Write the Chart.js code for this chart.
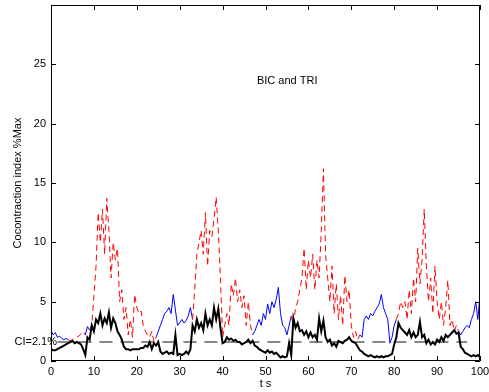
<!DOCTYPE html>
<html>
<head>
<meta charset="utf-8">
<script src="https://cdn.jsdelivr.net/npm/chart.js@4"></script>
<style>
html,body{margin:0;padding:0;background:#fff;}
canvas{display:block;}
</style>
</head>
<body>
<canvas id="c" width="489" height="392"></canvas>
<script>
// sampling interval of the recorded signals (s)
const dt = 0.5;
// cocontraction index, BIC/TRI (one value per 0.5 s, t = 0..100)
const cci = [
  2.6,2.2,2.4,2.0,2.1,1.9,1.8,1.9,1.8,1.7,
  1.8,1.9,2.0,2.1,2.3,2.5,2.2,2.9,2.6,3.0,
  5.5,8.0,12.5,10.0,12.8,9.0,13.7,11.0,7.0,10.0,
  8.5,9.5,5.0,6.0,3.5,4.5,2.2,3.5,2.0,5.6,
  4.5,4.0,4.2,3.0,2.5,2.2,2.0,2.5,1.6,2.0,
  2.5,3.0,3.5,4.0,4.2,4.5,4.0,5.6,4.3,3.0,
  3.2,3.5,3.2,3.4,3.8,4.5,3.5,6.0,9.0,10.0,
  11.0,9.0,12.5,8.0,11.0,10.5,12.0,13.8,11.0,7.0,
  2.0,3.0,4.0,3.0,6.5,5.5,7.0,5.0,6.0,4.5,
  5.5,3.0,5.0,3.0,2.2,2.5,3.0,3.5,3.0,4.0,
  3.5,4.8,4.0,5.0,4.5,5.2,6.2,4.0,3.0,2.8,
  2.2,3.0,3.8,3.0,4.5,5.0,6.0,7.0,9.5,6.0,
  8.5,7.0,9.0,6.0,8.5,7.0,11.0,16.2,9.0,7.0,
  5.0,8.0,4.0,6.5,3.5,5.5,3.0,7.2,5.0,6.0,
  3.0,2.0,2.5,1.8,2.2,2.0,3.5,3.8,3.5,4.0,
  3.8,4.2,4.5,4.8,5.6,4.5,4.0,3.5,1.5,2.0,
  3.0,3.5,4.0,5.0,4.5,5.0,3.5,6.0,4.0,7.0,
  5.0,9.5,6.5,8.5,12.8,8.0,5.0,7.0,4.0,8.0,
  5.0,3.5,5.0,3.0,4.5,6.8,3.0,3.5,2.5,3.0,
  2.5,2.2,2.5,2.8,3.0,2.8,3.5,4.0,5.0,3.5,
  5.6
];
// time ranges where the red (dashed) phase is shown
const redRanges = [[4,8],[9,24.5],[33,47],[56,72],[80.5,95]];
// second (black) index
const black = [
  1.0,0.9,0.9,1.0,1.1,1.2,1.3,1.4,1.5,1.6,
  1.7,1.5,1.6,1.5,1.4,1.0,0.5,2.0,1.8,3.0,
  2.5,3.5,3.2,4.0,3.0,3.6,3.2,4.1,2.8,3.6,
  3.2,2.5,2.2,1.8,1.2,1.0,1.0,0.9,1.0,1.0,
  1.0,1.0,1.1,1.1,1.3,1.2,1.6,1.0,1.5,1.3,
  1.6,0.8,0.6,0.7,0.8,0.6,0.7,0.6,2.2,0.5,
  0.6,0.5,0.6,0.8,0.6,1.0,3.0,2.5,3.5,2.8,
  3.2,2.6,4.0,3.0,3.5,3.0,4.5,3.5,4.4,2.8,
  1.5,1.6,2.0,1.8,1.9,1.7,1.8,1.6,1.6,1.4,
  1.5,1.6,1.8,1.5,1.7,1.3,1.2,1.0,0.9,0.8,
  0.7,0.9,0.7,0.8,0.6,0.7,0.5,0.3,0.4,0.3,
  0.4,1.5,0.5,3.6,2.8,3.2,2.5,2.6,2.2,2.5,
  2.0,2.4,2.0,2.2,1.8,3.6,2.5,3.4,2.0,1.6,
  1.8,1.3,1.5,1.2,1.7,1.6,1.5,1.7,1.8,2.0,
  1.7,1.6,1.5,1.2,0.9,0.8,0.6,0.5,0.4,0.5,
  0.4,0.3,0.4,0.3,0.4,0.3,0.4,0.4,0.5,0.6,
  1.4,2.0,3.2,2.8,2.6,2.4,2.2,2.6,2.0,2.4,
  2.0,2.2,3.3,2.0,2.2,1.5,1.8,1.4,1.6,1.4,
  1.8,1.6,2.0,1.7,2.2,2.0,2.2,2.4,2.6,2.3,
  2.4,1.2,1.0,0.7,0.6,0.5,0.4,0.5,0.4,0.5,
  0.3
];
// CI threshold line
const ciLevel = 1.6;
const ciSpan = [1.5, 97];
const ciLabel = 'CI=2.1%';
const xTicks = [0,10,20,30,40,50,60,70,80,90,100];
const yTicks = [0,5,10,15,20,25];
const annotation = {text:'BIC and TRI', x:48, y:23.6};

const FONT = 'Liberation Sans, Arial, Helvetica, sans-serif';
const isRed = t => redRanges.some(r => t >= r[0] && t < r[1]);
const toPts = arr => arr.map((v,i) => ({x: i*dt, y: v}));

const boxPlugin = {
  id: 'box',
  afterDatasetsDraw(chart) {
    const {ctx, chartArea: a, scales: {x, y}} = chart;
    ctx.save();
    ctx.strokeStyle = '#000';
    ctx.lineWidth = 1;
    ctx.beginPath();
    ctx.rect(Math.round(a.left)+0.5, Math.round(a.top)+0.5, Math.round(a.right-a.left)-1, Math.round(a.bottom-a.top)-1);
    ctx.stroke();
    const tl = 5;
    ctx.beginPath();
    xTicks.forEach(v => {
      const px = Math.round(x.getPixelForValue(v)) + 0.5;
      ctx.moveTo(px, a.bottom); ctx.lineTo(px, a.bottom - tl);
      ctx.moveTo(px, a.top); ctx.lineTo(px, a.top + tl);
    });
    yTicks.concat([30]).forEach(v => {
      const py = Math.round(y.getPixelForValue(v)) + 0.5;
      ctx.moveTo(a.left, py); ctx.lineTo(a.left + tl, py);
      ctx.moveTo(a.right, py); ctx.lineTo(a.right - tl, py);
    });
    ctx.stroke();
    ctx.fillStyle = '#000';
    ctx.font = '11px ' + FONT;
    ctx.textBaseline = 'middle';
    ctx.textAlign = 'left';
    ctx.fillText(annotation.text, x.getPixelForValue(annotation.x), y.getPixelForValue(annotation.y));
    ctx.textAlign = 'right';
    ctx.fillText(ciLabel, a.left + 6, y.getPixelForValue(ciLevel));
    ctx.restore();
  }
};

new Chart(document.getElementById('c'), {
  type: 'line',
  data: {
    datasets: [
      {
        data: [{x: ciSpan[0], y: ciLevel}, {x: ciSpan[1], y: ciLevel}],
        borderColor: '#111', borderWidth: 1, borderDash: [13,8],
        pointRadius: 0, order: 3
      },
      {
        data: toPts(cci),
        borderColor: '#0000ff', borderWidth: 1,
        pointRadius: 0, tension: 0, order: 2,
        segment: {
          borderColor: c => isRed(c.p0.parsed.x) ? '#ff0000' : '#0000ff',
          borderDash: c => isRed(c.p0.parsed.x) ? [6,4] : []
        }
      },
      {
        data: toPts(black),
        borderColor: '#000', borderWidth: 2,
        pointRadius: 0, tension: 0, order: 1
      }
    ]
  },
  options: {
    responsive: false,
    animation: false,
    devicePixelRatio: 1,
    layout: {padding: {top: 5, right: 9, left: 0, bottom: 0}},
    plugins: {legend: {display: false}, tooltip: {enabled: false}},
    scales: {
      x: {
        type: 'linear', min: 0, max: 100,
        afterBuildTicks: s => { s.ticks = xTicks.map(v => ({value: v})); },
        afterFit: s => { s.height = 31; s.paddingLeft = 0; s.paddingRight = 0; },
        grid: {display: false, drawTicks: false}, border: {display: false},
        ticks: {color: '#000', font: {family: FONT, size: 11}, padding: 4, maxRotation: 0, autoSkip: false},
        title: {display: true, text: 't s', color: '#000', font: {family: FONT, size: 11}, padding: {top: 0, bottom: 1}}
      },
      y: {
        type: 'linear', min: 0, max: 30,
        afterBuildTicks: s => { s.ticks = yTicks.map(v => ({value: v})); },
        afterFit: s => { s.width = 51; s.paddingTop = 0; s.paddingBottom = 0; },
        grid: {display: false, drawTicks: false}, border: {display: false},
        ticks: {color: '#000', font: {family: FONT, size: 11}, padding: 5},
        title: {display: true, text: 'Cocontraction index %Max', color: '#000', font: {family: FONT, size: 11}, padding: {top: 11, bottom: 0}}
      }
    }
  },
  plugins: [boxPlugin]
});
</script>
</body>
</html>
